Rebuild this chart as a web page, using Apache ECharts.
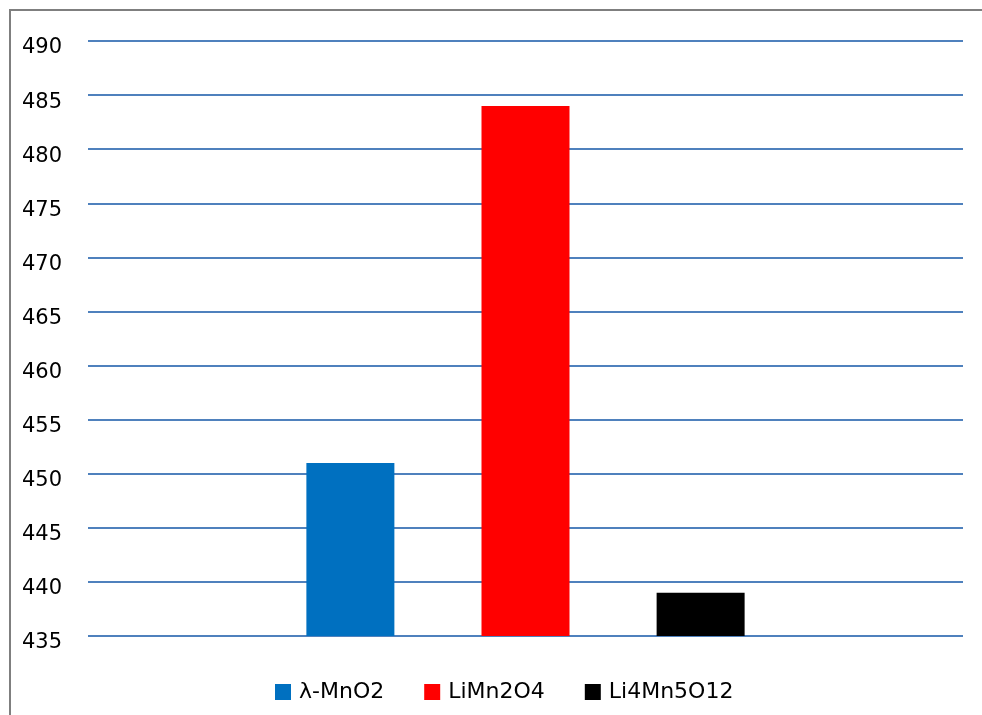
<!DOCTYPE html>
<html>
<head>
<meta charset="utf-8">
<style>
  html, body { margin: 0; padding: 0; background: #ffffff; }
  #chart { width: 982px; height: 715px; }
</style>
<script src="https://cdn.jsdelivr.net/npm/echarts@6/dist/echarts.min.js"></script>
</head>
<body>
<div id="chart"></div>
<script>
// Values per compound
const categories = [''];
const seriesNames = ['λ-MnO2', 'LiMn2O4', 'Li4Mn5O12'];
const seriesValues = [[451], [484], [439]];
const seriesColors = ['#0070C0', '#FF0000', '#000000'];
const yMin = 435;
const yMax = 490;
const yStep = 5;

const chart = echarts.init(document.getElementById('chart'), null, { renderer: 'canvas' });

const font = '"DejaVu Sans", "Liberation Sans", sans-serif';

const option = {
  animation: false,
  backgroundColor: '#ffffff',
  graphic: [{
    type: 'polyline',
    shape: { points: [[10, 760], [10, 10], [1000, 10]] },
    style: { stroke: '#7f7f7f', lineWidth: 2, fill: null },
    silent: true
  }],
  grid: { left: 88, right: 19, top: 41, bottom: 79, containLabel: false },
  legend: {
    top: 676,
    left: 270,
    itemWidth: 16,
    itemHeight: 16,
    itemGap: 40,
    icon: 'rect',
    textStyle: { fontFamily: font, fontSize: 22, color: '#000000', padding: [0, 0, 0, 3] },
    data: seriesNames
  },
  xAxis: {
    type: 'category',
    data: categories,
    axisLine: { show: false },
    axisTick: { show: false },
    axisLabel: { show: false }
  },
  yAxis: {
    type: 'value',
    min: yMin,
    max: yMax,
    interval: yStep,
    axisLine: { show: false },
    axisTick: { show: false },
    axisLabel: {
      fontFamily: font, fontSize: 21, color: '#000000', margin: 26,
      verticalAlign: 'top', lineHeight: 14
    },
    splitLine: { lineStyle: { color: '#4F81BD', width: 2 } }
  },
  series: seriesNames.map((name, i) => ({
    name: name,
    type: 'bar',
    data: seriesValues[i],
    barWidth: 88,
    barGap: '99%',
    itemStyle: { color: seriesColors[i] }
  }))
};

chart.setOption(option);
</script>
</body>
</html>
